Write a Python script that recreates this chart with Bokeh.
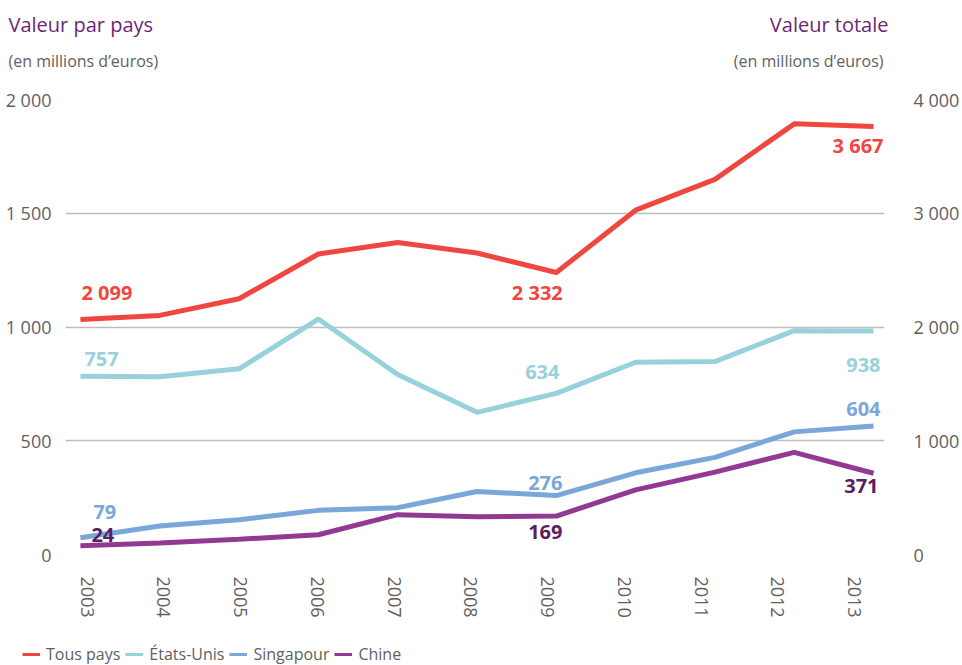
from bokeh.plotting import figure
from bokeh.models import (Range1d, LinearAxis, FixedTicker, Legend, LegendItem,
                          ColumnDataSource, Label, Grid)
from bokeh.core.properties import value
from bokeh.embed import file_html
from bokeh.resources import INLINE

# ---------------- data ----------------
years = [2003, 2004, 2005, 2006, 2007, 2008, 2009, 2010, 2011, 2012, 2013]
tous_pays = [2065, 2102, 2248, 2642, 2742, 2651, 2479, 3027, 3298, 3786, 3762]   # right axis
etats_unis = [784, 781, 816, 1035, 791, 625, 708, 845, 848, 984, 982]
singapour = [74, 125, 153, 194, 206, 277, 259, 359, 427, 539, 565]
chine = [38, 51, 67, 87, 175, 166, 169, 284, 362, 449, 357]

label_years = [2003, 2009, 2013]
tous_pays_labels = ["2 099", "2 332", "3 667"]
etats_unis_labels = ["757", "634", "938"]
singapour_labels = ["79", "276", "604"]
chine_labels = ["24", "169", "371"]

left_ticks = [0, 500, 1000, 1500, 2000]
left_tick_labels = ["0", "500", "1 000", "1 500", "2 000"]
right_ticks = [0, 1000, 2000, 3000, 4000]
right_tick_labels = ["0", "1 000", "2 000", "3 000", "4 000"]

series_names = ["Tous pays", "États-Unis", "Singapour", "Chine"]
title_left = "Valeur par pays"
title_right = "Valeur totale"
subtitle = "(en millions d’euros)"

# ---------------- styles ----------------
C_RED = "#EF4640"
C_LBLUE = "#96D1DC"
C_BLUE = "#7AA6DA"
C_PURPLE = "#923A93"
C_DPURPLE = "#5A1D5F"
C_TITLE = "#6B2775"
C_TEXT = "#5f5f5f"
C_GRID = "#bdbdbd"
FONT = "Open Sans"
W = 962
NAN = float("nan")


def blank_fig(height):
    f = figure(width=W, height=height, output_backend="svg", toolbar_location=None,
               x_range=Range1d(0, 1), y_range=Range1d(0, 1),
               x_axis_type=None, y_axis_type=None, min_border=0,
               min_border_left=0, min_border_right=0, min_border_top=0, min_border_bottom=0)
    f.outline_line_color = None
    return f


# ---------------- header (titles) ----------------
header = blank_fig(80)


def add_title(text, x, y, size, color, align):
    header.add_layout(Label(x=x, y=y, x_units="screen", y_units="screen", text=text,
                            text_font=FONT, text_font_size=size, text_color=color,
                            text_align=align, text_baseline="alphabetic"))


add_title(title_left, 8, 56, "20px", C_TITLE, "left")
add_title(subtitle, 8, 20, "16px", C_TEXT, "left")
add_title(title_right, 888, 56, "20px", C_TITLE, "right")
add_title(subtitle, 883, 20, "16px", C_TEXT, "right")

# ---------------- main chart ----------------
p = figure(width=W, height=540, output_backend="svg", toolbar_location=None,
           x_range=Range1d(2002.812, 2013.138), y_range=Range1d(0, 2000),
           x_axis_type=None, y_axis_type=None,
           min_border_left=65, min_border_right=72, min_border_top=19, min_border_bottom=64)
p.outline_line_color = None
p.extra_y_ranges = {"total": Range1d(0, 4000)}
p.extra_x_ranges = {"yr_axis": Range1d(2002.719, 2013.388)}


def style_axis(ax, standoff):
    ax.axis_line_color = None
    ax.major_tick_line_color = None
    ax.minor_tick_line_color = None
    ax.major_label_standoff = standoff
    ax.major_label_text_font = FONT
    ax.major_label_text_font_size = "18px"
    ax.major_label_text_color = C_TEXT


left_axis = LinearAxis(ticker=FixedTicker(ticks=left_ticks),
                       major_label_overrides=dict(zip(left_ticks, left_tick_labels)))
style_axis(left_axis, 8)
left_axis.major_label_text_baseline = "alphabetic"
p.add_layout(left_axis, "left")

right_axis = LinearAxis(y_range_name="total", ticker=FixedTicker(ticks=right_ticks),
                        major_label_overrides=dict(zip(right_ticks, right_tick_labels)))
style_axis(right_axis, 23)
p.add_layout(right_axis, "right")

bottom_axis = LinearAxis(x_range_name="yr_axis", ticker=FixedTicker(ticks=years),
                         major_label_orientation="vertical")
style_axis(bottom_axis, 16)
p.add_layout(bottom_axis, "below")

p.add_layout(Grid(dimension=1, ticker=FixedTicker(ticks=left_ticks),
                  grid_line_color=C_GRID, grid_line_width=1.5))

# lines
p.line(years, tous_pays, y_range_name="total", line_color=C_RED, line_width=5)
p.line(years, etats_unis, line_color=C_LBLUE, line_width=5)
p.line(years, singapour, line_color=C_BLUE, line_width=5)
p.line(years, chine, line_color=C_PURPLE, line_width=5)


# value labels
def add_labels(series, texts, color, aligns, xo, yo, range_name="default"):
    idx = [years.index(y) for y in label_years]
    src = ColumnDataSource(dict(x=label_years, y=[series[i] for i in idx], text=texts,
                                align=aligns, xo=xo, yo=yo))
    p.text(x="x", y="y", text="text", source=src, y_range_name=range_name,
           text_align="align", x_offset="xo", y_offset="yo",
           text_color=color, text_font=value(FONT), text_font_style="bold",
           text_font_size=value("20px"), text_baseline="middle")


add_labels(tous_pays, tous_pays_labels, C_RED, ["left", "center", "right"],
           [1, -19, 10], [-27, 20, 19], "total")
add_labels(etats_unis, etats_unis_labels, C_LBLUE, ["left", "center", "right"],
           [4, -14, 7], [-17, -21, 34])
add_labels(singapour, singapour_labels, C_BLUE, ["left", "center", "right"],
           [13, -11, 7], [-26, -13, -17])
add_labels(chine, chine_labels, C_DPURPLE, ["left", "center", "right"],
           [11, -11, 5], [-11, 16, 13])

# ---------------- footer (legend) ----------------
footer = blank_fig(45)
legend_colors = [C_RED, C_LBLUE, C_BLUE, C_PURPLE]
items = []
for name, col in zip(series_names, legend_colors):
    d = footer.line(x=[NAN], y=[NAN], line_color=col, line_width=3)
    items.append(LegendItem(label=name, renderers=[d]))
legend = Legend(items=items, location=(22, 0), orientation="horizontal",
                padding=0, margin=0, spacing=5, label_standoff=6,
                glyph_width=18, glyph_height=16, border_line_color=None,
                background_fill_alpha=0, label_text_font=FONT,
                label_text_font_size="16px", label_text_color=C_TEXT)
footer.add_layout(legend)

open("out.html", "w").write(file_html([header, p, footer], INLINE))
